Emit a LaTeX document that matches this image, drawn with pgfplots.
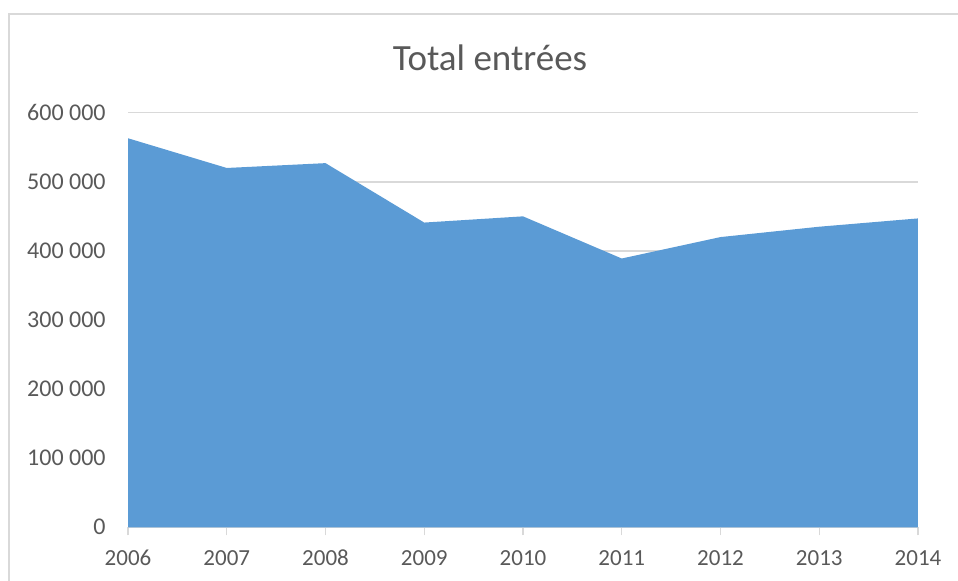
\documentclass[border=0pt]{standalone}
\usepackage{fontspec}
\setmainfont{Carlito}
\usepackage{pgfplots}
\pgfplotsset{compat=1.18}
\definecolor{areablue}{HTML}{5B9BD5}
\definecolor{txtgray}{HTML}{595959}
\definecolor{gridgray}{HTML}{D9D9D9}
\definecolor{framegray}{HTML}{D9D9D9}
\begin{document}
\begin{tikzpicture}
\path[use as bounding box] (0,0) rectangle (479pt,290.5pt);
\draw[framegray, line width=1.2pt] (4.5pt,0) -- (4.5pt,283.5pt) -- (479pt,283.5pt);
\node[txtgray, font=\fontsize{18.5}{20}\selectfont] at (245pt,261.5pt) {Total entrées};
\begin{axis}[
  at={(64pt,26.85pt)}, anchor=south west,
  scale only axis, width=395pt, height=207.3pt,
  xmin=2006, xmax=2014, ymin=0, ymax=600000,
  xtick={2006,2007,2008,2009,2010,2011,2012,2013,2014},
  xticklabels={2006,2007,2008,2009,2010,2011,2012,2013,2014},
  ytick={0,100000,200000,300000,400000,500000,600000},
  yticklabels={0,100\ 000,200\ 000,300\ 000,400\ 000,500\ 000,600\ 000},
  axis x line*=bottom, axis y line*=left,
  x axis line style={gridgray, line width=0.8pt},
  y axis line style={draw=none},
  ymajorgrids, grid style={gridgray, line width=0.8pt},
  major tick length=4pt,
  xtick style={gridgray, line width=0.6pt},
  ytick style={draw=none},
  xtick align=outside,
  tick label style={txtgray},
  yticklabel style={font=\fontsize{12}{14}\selectfont, anchor=east, inner sep=0pt, xshift=-11pt},
  xticklabel style={font=\fontsize{11.5}{13}\selectfont, inner sep=0pt, anchor=base, yshift=-15pt},
  scaled y ticks=false,
  clip=false,
]
\addplot[fill=areablue, draw=none] coordinates {
  (2006,563000) (2007,520000) (2008,527000) (2009,441000) (2010,450000)
  (2011,389000) (2012,420000) (2013,435000) (2014,447000)
} \closedcycle;
\end{axis}
\end{tikzpicture}
\end{document}
